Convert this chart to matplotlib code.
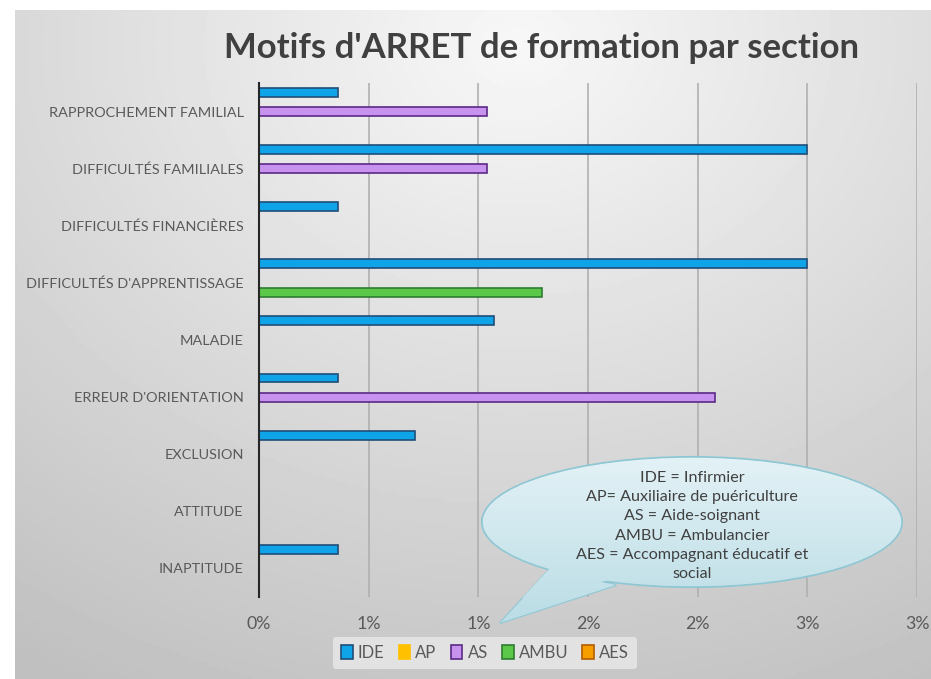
import numpy as np
import matplotlib
matplotlib.use("Agg")
import matplotlib.pyplot as plt
from matplotlib.patches import Ellipse, Polygon, Patch
from matplotlib.colors import LinearSegmentedColormap

plt.rcParams["font.family"] = ["Lato", "DejaVu Sans"]

categories = ["RAPPROCHEMENT FAMILIAL", "DIFFICULTÉS FAMILIALES",
              "DIFFICULTÉS FINANCIÈRES", "DIFFICULTÉS D'APPRENTISSAGE",
              "MALADIE", "ERREUR D'ORIENTATION", "EXCLUSION", "ATTITUDE",
              "INAPTITUDE"]
series = ["IDE", "AP", "AS", "AMBU", "AES"]
ide = [0.0036, 0.025, 0.0036, 0.025, 0.0107, 0.0036, 0.0071, 0.0, 0.0036]
ap = [0, 0, 0, 0, 0, 0, 0, 0, 0]
as_ = [0.0104, 0.0104, 0, 0, 0, 0.0208, 0, 0, 0]
ambu = [0, 0, 0, 0.0129, 0, 0, 0, 0, 0]
aes = [0, 0, 0, 0, 0, 0, 0, 0, 0]
xticks = [0, 0.005, 0.010, 0.015, 0.020, 0.025, 0.030]
xtick_labels = ["0%", "1%", "1%", "2%", "2%", "3%", "3%"]

fills = ["#0fa3e8", "#ffc000", "#c893ef", "#5cc84a", "#f5a000"]
edges = ["#1f4e79", "#ffc000", "#5b2a86", "#2e7d32", "#b35c00"]
values = [ide, ap, as_, ambu, aes]

W, H = 931, 679
fig = plt.figure(figsize=(W / 100, H / 100), dpi=100)
fig.patch.set_facecolor("white")

# gray chart background with soft radial gradient
bg = fig.add_axes([15 / W, 0, 1 - 15 / W, 1 - 10 / H])
yy, xx = np.mgrid[0:1:200j, 0:1:300j]
r = np.sqrt(((xx - 0.55) / 1.0) ** 2 + ((yy - 0.05) / 1.1) ** 2)
shade = 0.97 - 0.22 * np.clip(r, 0, 1)
bg.imshow(shade, cmap="gray", vmin=0, vmax=1, aspect="auto",
          extent=[0, 1, 1, 0])
bg.set_axis_off()

ax = fig.add_axes([259 / W, 1 - 597 / H, (917 - 259) / W, (597 - 83) / H])
ax.patch.set_alpha(0)
n = len(categories)
y = np.arange(n)
h = 0.155
step = 0.167
for k, (name, vals) in enumerate(zip(series, values)):
    ax.barh(y + (k - 2) * step, vals, height=h, color=fills[k],
            edgecolor=edges[k], linewidth=1.2, label=name, zorder=3)

ax.set_ylim(n - 0.5, -0.5)
ax.set_xlim(0, 0.03)
ax.set_xticks(xticks)
ax.set_xticklabels(xtick_labels)
ax.set_yticks(y)
ax.set_yticklabels(categories)
ax.tick_params(axis="both", length=0, colors="#595959")
ax.tick_params(axis="x", labelsize=12.8, pad=14)
ax.tick_params(axis="y", labelsize=10.4, pad=11)
ax.grid(axis="x", color="#b0b0b0", linewidth=1.2, zorder=0)
for s in ["top", "right", "bottom"]:
    ax.spines[s].set_visible(False)
ax.spines["left"].set_color("#262626")
ax.spines["left"].set_linewidth(1.5)
ax.spines["left"].set_zorder(4)

fig.text(542 / W, 1 - 48 / H, "Motifs d'ARRET de formation par section",
         ha="center", va="center", fontsize=25, fontweight="bold",
         color="#404040")

handles = [Patch(facecolor=fills[k], edgecolor=edges[k], linewidth=1.2,
                 label=series[k]) for k in range(len(series))]
leg = fig.legend(handles=handles, loc="center",
                 bbox_to_anchor=(485 / W, 1 - 653 / H), ncol=5,
                 frameon=True, fontsize=12, handlelength=0.7,
                 handleheight=0.9, handletextpad=0.3, columnspacing=0.85,
                 borderpad=0.5)
leg.get_frame().set_facecolor("#e2e2e2")
leg.get_frame().set_edgecolor("none")
leg.get_frame().set_alpha(1)
for t in leg.get_texts():
    t.set_color("#595959")

# speech-bubble callout (pixel overlay)
ov = fig.add_axes([0, 0, 1, 1])
ov.set_xlim(0, W)
ov.set_ylim(H, 0)
ov.set_axis_off()
ov.patch.set_alpha(0)
cx, cy, ew, eh = 692, 522, 420, 130
edge_c = "#8ec7d4"
cmap = LinearSegmentedColormap.from_list("bub", ["#e4f2f6", "#b9dce5"])
grad = np.linspace(0, 1, 256).reshape(-1, 1)

tail = Polygon([(548, 571), (500, 623), (616, 585)], closed=True,
               facecolor="none", edgecolor=edge_c, linewidth=1.5, zorder=4)
ov.add_patch(tail)
im_t = ov.imshow(grad, cmap=cmap, aspect="auto", extent=[480, 910, 628, 455],
                 zorder=4)
im_t.set_clip_path(tail)
ell = Ellipse((cx, cy), ew, eh, facecolor="none", edgecolor=edge_c,
              linewidth=1.5, zorder=5)
ov.add_patch(ell)
fill_ell = Ellipse((cx, cy), ew - 1.5, eh - 1.5, facecolor="none",
                   edgecolor="none", zorder=5)
ov.add_patch(fill_ell)
im_e = ov.imshow(grad, cmap=cmap, aspect="auto", extent=[480, 910, 628, 455],
                 zorder=5)
im_e.set_clip_path(fill_ell)
inner = Polygon([(552, 566), (522, 598), (610, 580)], closed=True,
                facecolor="none", edgecolor="none", zorder=6)
ov.add_patch(inner)
im_i = ov.imshow(grad, cmap=cmap, aspect="auto", extent=[480, 910, 628, 455],
                 zorder=6)
im_i.set_clip_path(inner)
ov.set_xlim(0, W)
ov.set_ylim(H, 0)

callout = ["IDE = Infirmier", "AP= Auxiliaire de puériculture",
           "AS = Aide-soignant", "AMBU = Ambulancier",
           "AES = Accompagnant éducatif et", "social"]
for i, line in enumerate(callout):
    ov.text(cx, 478 + i * 19.2, line, ha="center", va="center",
            fontsize=11.6, color="#404040", zorder=7)

fig.savefig("out.png", dpi=100)
